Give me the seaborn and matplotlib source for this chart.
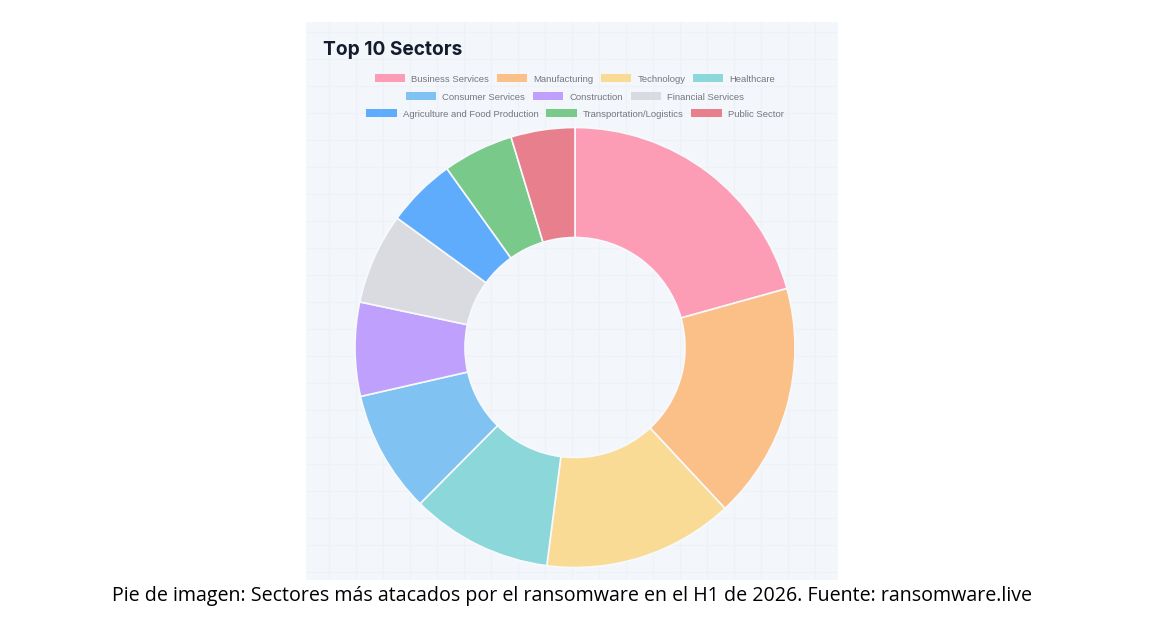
import matplotlib
matplotlib.use("Agg")
import matplotlib.pyplot as plt
from matplotlib.patches import Patch
import seaborn as sns

sectors = ["Business Services", "Manufacturing", "Technology", "Healthcare",
           "Consumer Services", "Construction", "Financial Services",
           "Agriculture and Food Production", "Transportation/Logistics", "Public Sector"]
shares = [20.7, 17.4, 14.0, 10.4, 9.0, 6.9, 6.7, 5.1, 5.2, 4.7]
colors = ["#FC9DB5", "#FBC088", "#F9DB95", "#8CD7D9", "#80C3F2",
          "#BFA0FC", "#DADBE0", "#60ACFC", "#79C98A", "#E77F8D"]
legend_rows = [sectors[:4], sectors[4:7], sectors[7:]]
title = "Top 10 Sectors"
caption = "Pie de imagen: Sectores más atacados por el ransomware en el H1 de 2026. Fuente: ransomware.live"

W, H = 1154, 630
sns.set_theme(style="white")
plt.rcParams["font.family"] = ["Liberation Sans", "DejaVu Sans"]
fig = plt.figure(figsize=(W / 100, H / 100), dpi=100, facecolor="white")

def box(x0, y0, x1, y1):
    return [x0 / W, 1 - y1 / H, (x1 - x0) / W, (y1 - y0) / H]

panel = fig.add_axes(box(306, 22, 838, 580))
panel.set_facecolor("#F3F7FC")
panel.set_xlim(0, 532)
panel.set_ylim(558, 0)
panel.set_xticks(range(23, 532, 27))
panel.set_yticks(range(10, 558, 27))
panel.grid(True, color="#EEF2F7", lw=0.9)
panel.tick_params(length=0, labelbottom=False, labelleft=False)
sns.despine(ax=panel, left=True, bottom=True)

R = 220
ax = fig.add_axes(box(575 - R, 347.5 - R, 575 + R, 347.5 + R))
ax.patch.set_alpha(0)
wedges, _ = ax.pie(shares, colors=colors, startangle=90, counterclock=False, radius=1.0,
                   wedgeprops=dict(width=0.5, edgecolor="#F8F9FC", linewidth=1.2))
ax.set_xlim(-1, 1)
ax.set_ylim(-1, 1)

lookup = dict(zip(sectors, colors))
for row, y in zip(legend_rows, (79, 97, 114)):
    handles = [Patch(facecolor=lookup[s], edgecolor="none", label=s) for s in row]
    fig.legend(handles=handles, loc="center", bbox_to_anchor=(575 / W, 1 - y / H), ncol=len(row),
               frameon=False, fontsize=6.8, labelcolor="#74777E", handlelength=3.2, handleheight=0.9,
               handletextpad=0.65, columnspacing=0.82, borderpad=0, borderaxespad=0)

fig.text(323 / W, 1 - 50 / H, title, fontsize=13.8, fontweight="bold", color="#141B2D",
         family=["Inter", "DejaVu Sans"], va="center", ha="left")
fig.text(572 / W, 1 - 596 / H, caption, fontsize=14.13, color="black",
         family=["Open Sans", "DejaVu Sans"], va="center", ha="center")

fig.savefig("out.png", dpi=100, facecolor="white")
